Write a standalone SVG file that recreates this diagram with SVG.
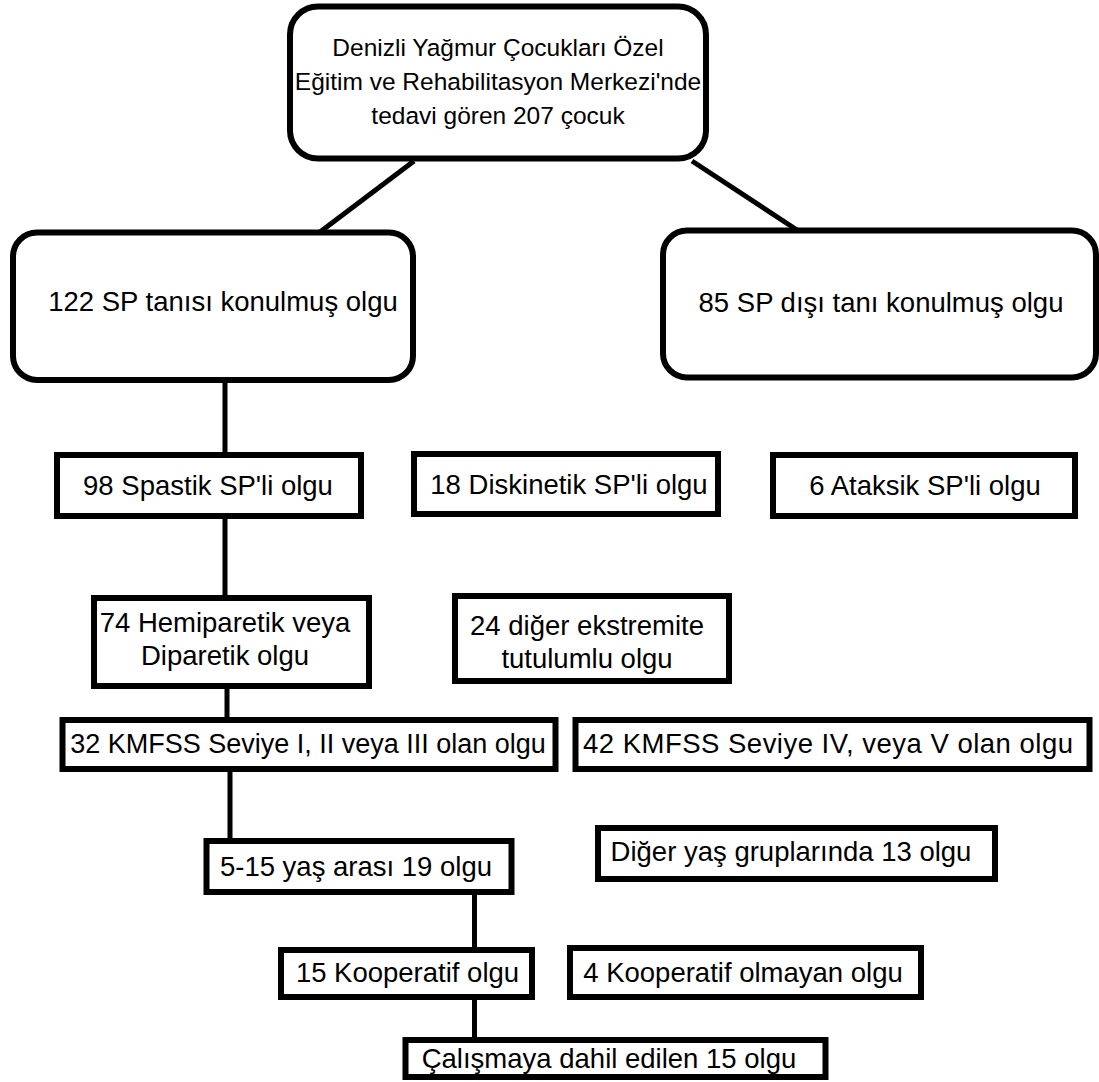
<svg xmlns="http://www.w3.org/2000/svg" width="1099" height="1082" viewBox="0 0 1099 1082">
<style>
.box{fill:#fff;stroke:#000;stroke-width:6}
.con{stroke:#000;stroke-width:5;fill:none}
text{font-family:"Liberation Sans",Arial,sans-serif;font-size:27.5px;fill:#000;text-anchor:middle}
.root{font-size:24.5px}
</style>
<rect width="1099" height="1082" fill="#fff"/>
<g id="connectors">
<line class="con" x1="414" y1="161" x2="320" y2="232"/>
<line class="con" x1="692" y1="161" x2="797" y2="230"/>
<line class="con" x1="225" y1="380" x2="225" y2="455"/>
<line class="con" x1="225" y1="516" x2="225" y2="598"/>
<line class="con" x1="227" y1="686" x2="227" y2="720"/>
<line class="con" x1="230" y1="769" x2="230" y2="841"/>
<line class="con" x1="474.5" y1="892" x2="474.5" y2="950"/>
<line class="con" x1="474.5" y1="997" x2="474.5" y2="1040"/>
</g>
<g id="n-root">
<rect class="box" x="290" y="6.5" width="416" height="152" rx="28"/>
<text class="root" x="498" y="56">Denizli Yağmur Çocukları Özel</text>
<text class="root" x="498" y="90">Eğitim ve Rehabilitasyon Merkezi'nde</text>
<text class="root" x="498" y="124">tedavi gören 207 çocuk</text>
</g>
<g id="n-sp">
<rect class="box" x="13" y="232.5" width="400" height="147.5" rx="24"/>
<text x="223" y="311">122 SP tanısı konulmuş olgu</text>
</g>
<g id="n-nonsp">
<rect class="box" x="663" y="230.5" width="433" height="147" rx="24"/>
<text x="881" y="312">85 SP dışı tanı konulmuş olgu</text>
</g>
<g id="n-spastik">
<rect class="box" x="57" y="455" width="304" height="61"/>
<text x="208" y="495">98 Spastik SP'li olgu</text>
</g>
<g id="n-diskinetik">
<rect class="box" x="414" y="454" width="304" height="60"/>
<text x="569" y="494">18 Diskinetik SP'li olgu</text>
</g>
<g id="n-ataksik">
<rect class="box" x="773" y="455" width="302" height="61"/>
<text x="925" y="495">6 Ataksik SP'li olgu</text>
</g>
<g id="n-hemi">
<rect class="box" x="94" y="598" width="275" height="88"/>
<text x="225" y="632">74 Hemiparetik veya</text>
<text x="225" y="665">Diparetik olgu</text>
</g>
<g id="n-diger-eks">
<rect class="box" x="455" y="596" width="274" height="85"/>
<text x="587" y="635">24 diğer ekstremite</text>
<text x="587" y="668">tutulumlu olgu</text>
</g>
<g id="n-kmfss123">
<rect class="box" x="62.5" y="720" width="493" height="49"/>
<text x="308" y="753" style="font-size:27px">32 KMFSS Seviye I, II veya III olan olgu</text>
</g>
<g id="n-kmfss45">
<rect class="box" x="575.5" y="720" width="514" height="49"/>
<text x="583" y="753" style="text-anchor:start" textLength="490" lengthAdjust="spacing">42 KMFSS Seviye IV, veya V olan olgu</text>
</g>
<g id="n-yas">
<rect class="box" x="206.5" y="841" width="305" height="51"/>
<text x="356" y="876">5-15 yaş arası 19 olgu</text>
</g>
<g id="n-diger-yas">
<rect class="box" x="598" y="828" width="397" height="51"/>
<text x="791" y="861">Diğer yaş gruplarında 13 olgu</text>
</g>
<g id="n-koop">
<rect class="box" x="281" y="950" width="251" height="47"/>
<text x="407.5" y="982">15 Kooperatif olgu</text>
</g>
<g id="n-nonkoop">
<rect class="box" x="570" y="948" width="351" height="49"/>
<text x="743" y="982">4 Kooperatif olmayan olgu</text>
</g>
<g id="n-final">
<rect class="box" x="405.5" y="1040" width="420" height="37"/>
<text x="609" y="1068">Çalışmaya dahil edilen 15 olgu</text>
</g>
</svg>
